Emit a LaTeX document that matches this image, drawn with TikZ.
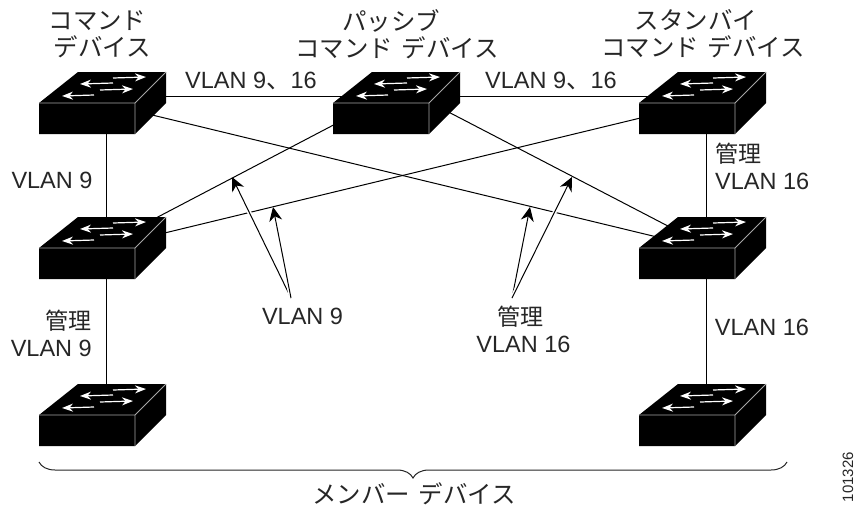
\documentclass[tikz,border=0pt]{standalone}
\usepackage{fontspec}
\setmainfont{Liberation Sans}
\newfontfamily\jp[Scale=1.04, WordSpace=1.6]{Noto Sans CJK JP}
\newfontfamily\kanji[Scale=0.98]{Noto Sans CJK JP}
\usetikzlibrary{arrows.meta, decorations.pathreplacing}
\definecolor{labelgray}{gray}{0.15}
\tikzset{
	swbox/.style={inner sep=0pt, minimum width=127pt, minimum height=62pt},
	caption/.style={text=labelgray, inner sep=0pt, font=\fontsize{23.5}{27}\selectfont},
	link/.style={line width=1pt},
	pointer/.style={line width=1pt, -{Stealth[length=14pt, width=13pt]},
		preaction={draw=white, line width=4pt}},
	swarrow/.style={white, line width=1.2pt, -{Stealth[length=11pt, width=8pt]}},
	switchbox/.pic={
		\fill (-63.5,0) -- (-24.5,-31) -- (63.5,-31) -- (63.5,0) -- (32.5,31) -- (-63.5,31) -- cycle;
		\draw[gray!70!white, line width=0.8pt] (-63.5,0) -- (32.5,0) -- (63.5,-31) (32.5,0) -- (32.5,31);
		\draw[swarrow] (10.5,-25) -- (43.5,-26);
		\draw[swarrow] (10.5,-20) -- (-22.5,-19);
		\draw[swarrow] (-2.5,-13) -- (30.5,-14);
		\draw[swarrow] (-8.5,-8) -- (-40.5,-7);
	},
}

\begin{document}
\begin{tikzpicture}[x=1pt, y=-1pt]
\useasboundingbox (0,0) rectangle (859,506);

\foreach \x/\y/\sw in {102.5/103/cmd, 396.5/103/passive, 702.5/103/standby,
	102.5/248/memberA, 702.5/248/memberB, 102.5/415/memberC, 702.5/415/memberD}
	\node [swbox] at (\x,\y) (\sw) {};

%links
\draw[link] ([yshift=7pt]cmd.center) -- ([yshift=7pt]passive.center);
\draw[link] ([yshift=7pt]passive.center) -- ([yshift=7pt]standby.center);
\draw[link] ([xshift=3.5pt]cmd.center) -- ([xshift=3.5pt]memberA.center);
\draw[link] ([xshift=3.5pt]memberA.center) -- ([xshift=3.5pt]memberC.center);
\draw[link] ([xshift=3.5pt]standby.center) -- ([xshift=3.5pt]memberB.center);
\draw[link] ([xshift=3.5pt]memberB.center) -- ([xshift=3.5pt]memberD.center);
\draw[link] (cmd.center) -- (memberB.center);
\draw[link] (standby.center) -- (memberA.center);
\draw[link] ([yshift=11pt]passive.center) -- ([yshift=2pt]memberA.center);
\draw[link] ([yshift=18pt]passive.center) -- ([yshift=4pt]memberB.center);

\foreach \sw in {cmd, passive, standby, memberA, memberB, memberC, memberD}
	\pic at (\sw) {switchbox};

%pointers
\coordinate (vlan9 from) at (291,298);
\coordinate (mgmt from) at (512,298);
\coordinate (vlan9 a) at (232,177);
\coordinate (vlan9 b) at (273,207);
\coordinate (mgmt a) at (530,207);
\coordinate (mgmt b) at (572,177);
\draw[pointer] (vlan9 from) -- (vlan9 a);
\draw[pointer] (vlan9 from) -- (vlan9 b);
\draw[pointer] (mgmt from) -- (mgmt a);
\draw[pointer] (mgmt from) -- (mgmt b);

%captions
\node[caption, align=center] at (102.5,34) (cmd caption) {{\jp コマンド}\hspace*{10pt}\\{\jp デバイス}};
\node[caption, align=center] at (397,34) (passive caption) {{\jp パッシブ}\hspace*{12pt}\\{\jp コマンド デバイス}};
\node[caption, align=center] at (703,34) (standby caption) {{\jp スタンバイ}\hspace*{14pt}\\{\jp コマンド デバイス}};
\node[caption] at (251,80.5) (vlan top a) {VLAN 9{\jp 、}16};
\node[caption] at (551,80.5) (vlan top b) {VLAN 9{\jp 、}16};
\node[caption] at (52,180) (vlan left) {VLAN 9};
\node[caption, align=left, anchor=west] at (715,166) (vlan right) {{\kanji 管理}\\VLAN 16};
\node[caption, align=right, anchor=east] at (92,333) (mgmt left) {{\kanji 管理}\\VLAN 9};
\node[caption] at (302.5,316) (vlan mid) {VLAN 9};
\node[caption, align=center] at (523.5,329) (mgmt mid) {{\kanji 管理}\hspace*{6pt}\\VLAN 16};
\node[caption] at (762,327) (vlan low) {VLAN 16};
\node[caption] at (414,494) (members) {\jp メンバー デバイス};
\node[text=labelgray, inner sep=0pt, font=\fontsize{15}{15}\selectfont, rotate=90] at (848,477) (figure id) {101326};

%brace
\coordinate (brace left) at (39,462);
\coordinate (brace right) at (787,462);
\draw[line width=1pt, labelgray, decorate, decoration={brace, amplitude=16pt}] (brace right) -- (brace left);
\end{tikzpicture}
\end{document}
